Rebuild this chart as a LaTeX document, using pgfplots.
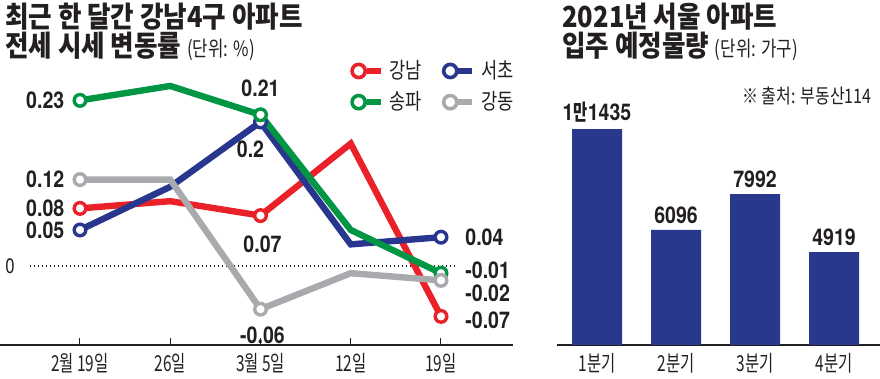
\documentclass[border=0pt]{standalone}
\usepackage{fontspec}
\usepackage{pgfplots}
\pgfplotsset{compat=1.18}
\setmainfont{TeX Gyre Heros}
\newfontfamily\krT{Noto Sans CJK KR}[FakeStretch=0.88]
\newfontfamily\krR{Noto Sans CJK KR}[FakeStretch=0.70]
\newfontfamily\krL{Noto Sans CJK KR}[FakeStretch=0.80]
\newfontfamily\krBc{Noto Sans CJK KR}[FakeStretch=0.7]
\newfontfamily\numB{TeX Gyre Heros}[FakeStretch=0.85]
\newfontfamily\numR{TeX Gyre Heros}[FakeStretch=0.8]
\definecolor{cRed}{RGB}{234,33,40}
\definecolor{cNavy}{RGB}{40,54,142}
\definecolor{cGreen}{RGB}{0,150,68}
\definecolor{cGray}{RGB}{168,170,173}
\definecolor{cBar}{RGB}{40,56,140}
\definecolor{cText}{RGB}{35,31,32}
\pgfplotsset{ser/.style={line width=3.2bp, mark=*, mark size=2.9bp, mark indices={1,3,5},
  mark options={solid, fill=white, line width=1.7bp}}}
\newcommand{\nb}{\numB\bfseries\fontsize{11.5bp}{12bp}\selectfont}
\begin{document}
\begin{tikzpicture}[x=0.5bp,y=0.5bp]
\useasboundingbox (0,0) rectangle (880,379);
% titles
\node[anchor=base west, inner sep=0, text=cText, font=\krT\bfseries\fontsize{14.5bp}{16bp}\selectfont] at (5,351) {최근 한 달간 강남4구 아파트};
\node[anchor=base west, inner sep=0, text=cText, font=\krT\bfseries\fontsize{14.5bp}{16bp}\selectfont] at (5,322) {전세 시세 변동률 {\krL\mdseries\fontsize{10.5bp}{12bp}\selectfont (단위: \%)}};
\node[anchor=base west, inner sep=0, text=cText, font=\krT\bfseries\fontsize{14.5bp}{16bp}\selectfont] at (562,351) {2021년 서울 아파트};
\node[anchor=base west, inner sep=0, text=cText, font=\krT\bfseries\fontsize{14.5bp}{16bp}\selectfont] at (562,322) {입주 예정물량 {\krL\mdseries\fontsize{10.5bp}{12bp}\selectfont (단위: 가구)}};
\node[anchor=west, inner sep=0, text=cText, font=\krL\fontsize{10bp}{11bp}\selectfont] at (742,283) {※ 출처: 부동산114};
% line chart
\begin{axis}[
  at={(0bp,17bp)}, anchor=south west, scale only axis,
  width=256.5bp, height=142.5bp,
  xmin=-0.8864, xmax=4.798, ymin=-0.10972, ymax=0.28611,
  axis x line=bottom, axis y line=none,
  x axis line style={-, line width=1bp, cText},
  xtick={0,1,2,3,4}, xticklabels={2월 19일,26일,3월 5일,12일,19일},
  xtick align=inside, major tick length=3.5bp,
  xtick style={line width=0.5bp, color=cText},
  xticklabel style={font=\krR\fontsize{11bp}{12bp}\selectfont, text=cText, inner sep=0pt, anchor=north, yshift=-4bp},
  ytick=\empty,
  clip=false,
  legend columns=2,
  legend image code/.code={
    \draw[#1, mark=none, line width=2.8bp] (4bp,0) -- (11bp,0);
    \draw[#1, mark=none, line width=1.8bp, fill=white] (0,0) circle (3.3bp);},
  legend style={at={(0.682,1.0)}, anchor=north west, draw=none, fill=none, inner sep=0pt,
    column sep=3bp, row sep=5bp, font=\krL\fontsize{11bp}{12bp}\selectfont, text=cText,
    nodes={inner sep=0pt, anchor=west},
    /tikz/every even column/.append style={column sep=10bp}},
]
\addlegendimage{ser, cRed}\addlegendentry{강남}
\addlegendimage{ser, cNavy}\addlegendentry{서초}
\addlegendimage{ser, cGreen}\addlegendentry{송파}
\addlegendimage{ser, cGray}\addlegendentry{강동}
\draw[cText, line width=0.6bp, dash pattern=on 0.6bp off 1.4bp] (axis cs:-0.554,0) -- (axis cs:4.155,0);
\node[font=\numR\fontsize{10.5bp}{12bp}\selectfont, text=cText] at (axis cs:-0.776,0) {0};
\addplot[ser, cRed, forget plot] coordinates {(0,0.08)(1,0.09)(2,0.07)(3,0.17)(4,-0.07)};
\addplot[ser, cNavy, forget plot] coordinates {(0,0.05)(1,0.11)(2,0.2)(3,0.03)(4,0.04)};
\addplot[ser, cGreen, forget plot] coordinates {(0,0.23)(1,0.25)(2,0.21)(3,0.05)(4,-0.01)};
\addplot[ser, cGray, forget plot] coordinates {(0,0.12)(1,0.12)(2,-0.06)(3,-0.01)(4,-0.02)};
% data labels
\begin{scope}[every node/.style={font=\nb, text=cText, inner sep=0pt}]
\node[anchor=east] at (axis cs:-0.17,0.23) {0.23};
\node[anchor=east] at (axis cs:-0.17,0.12) {0.12};
\node[anchor=east] at (axis cs:-0.17,0.08) {0.08};
\node[anchor=east] at (axis cs:-0.17,0.05) {0.05};
\node[yshift=13bp] at (axis cs:2,0.21) {0.21};
\node[xshift=-5bp, yshift=-13.5bp] at (axis cs:2,0.2) {0.2};
\node[xshift=1bp, yshift=-14.5bp] at (axis cs:2,0.07) {0.07};
\node[xshift=1bp, yshift=-13bp] at (axis cs:2,-0.06) {-0.06};
\node[anchor=west] at (axis cs:4.266,0.0403) {0.04};
\node[anchor=west] at (axis cs:4.266,-0.0056) {-0.01};
\node[anchor=west] at (axis cs:4.266,-0.0375) {-0.02};
\node[anchor=west] at (axis cs:4.266,-0.075) {-0.07};
\end{scope}
\end{axis}
% bar chart
\begin{axis}[
  at={(278.5bp,17bp)}, anchor=south west, scale only axis,
  width=161.5bp, height=142.5bp,
  xmin=-0.506, xmax=3.582, ymin=0, ymax=15092,
  axis x line=bottom, axis y line=none,
  x axis line style={-, line width=1bp, cText},
  xtick={0,1,2,3}, xticklabels={1분기,2분기,3분기,4분기},
  major tick length=0pt,
  xticklabel style={font=\krR\fontsize{11bp}{12bp}\selectfont, text=cText, inner sep=0pt, anchor=north, yshift=-4bp},
  ytick=\empty, clip=false,
]
\addplot[ybar, bar width=25bp, fill=cBar, draw=none] coordinates {(0,11435)(1,6096)(2,7992)(3,4919)};
\begin{scope}[every node/.style={font=\nb, text=cText, inner sep=0pt, anchor=south, yshift=3bp}]
\node at (axis cs:0,11435) {1{\krBc\bfseries\fontsize{11bp}{12bp}\selectfont 만}1435};
\node at (axis cs:1,6096) {6096};
\node at (axis cs:2,7992) {7992};
\node at (axis cs:3,4919) {4919};
\end{scope}
\end{axis}
\end{tikzpicture}
\end{document}
